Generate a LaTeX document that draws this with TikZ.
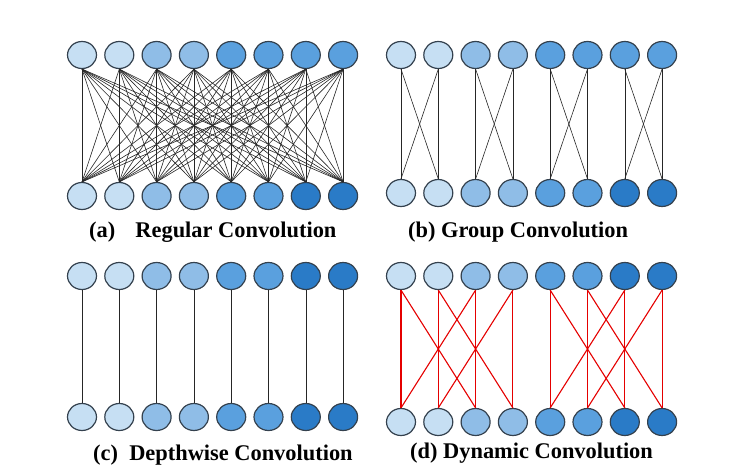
\documentclass[tikz,border=0pt]{standalone}
\usepackage{fontspec}
\setmainfont{Liberation Serif}
\usepackage{tikz}
\usetikzlibrary{positioning, shapes.geometric}

\definecolor{cA}{HTML}{C6DFF3}
\definecolor{cB}{HTML}{8FBDE7}
\definecolor{cC}{HTML}{5AA0DE}
\definecolor{cD}{HTML}{2A7BC7}
\definecolor{rim}{HTML}{34414E}

\begin{document}
\begin{tikzpicture}[
  x=1pt, y=-1pt,
  unit/.style={ellipse, draw=rim, line width=1.2pt, minimum width=29pt, minimum height=27pt, inner sep=0pt},
  wire/.style={draw=black!85, line width=0.6pt},
  dyn/.style={draw=red!90!black, line width=1.1pt},
  caption/.style={font=\bfseries\fontsize{22.4}{24}\selectfont, anchor=west, inner sep=0pt}
]
\useasboundingbox (0,0) rectangle (740,476);
% colour of each unit, left to right
\def\toplist{cA,cA,cB,cB,cC,cC,cC,cC}
\def\botlist{cA,cA,cB,cB,cC,cC,cD,cD}
% (a) and (b)
\foreach \c [count=\i] in \toplist {
  \node[unit, fill=\c] (a-t\i) at ({82+37.3*(\i-1)},55) {};
  \node[unit, fill=\c] (b-t\i) at ({401+37.3*(\i-1)},55) {};
}
\foreach \c [count=\i] in \botlist {
  \node[unit, fill=\c] (a-b\i) at ({82+37.3*(\i-1)},196) {};
  \node[unit, fill=\c] (b-b\i) at ({401+37.3*(\i-1)},193) {};
  \node[unit, fill=\c] (c-t\i) at ({82+37.3*(\i-1)},276) {};
  \node[unit, fill=\c] (c-b\i) at ({82+37.3*(\i-1)},417) {};
  \node[unit, fill=\c] (d-t\i) at ({401+37.3*(\i-1)},276) {};
  \node[unit, fill=\c] (d-b\i) at ({401+37.3*(\i-1)},422) {};
}
% regular: every input to every output
\foreach \i in {1,...,8}
  \foreach \j in {1,...,8}
    \draw[wire] (a-t\i.south) -- (a-b\j.north);
% group: pairs
\foreach \i/\j in {1/2,3/4,5/6,7/8} {
  \draw[wire] (b-t\i.south) -- (b-b\i.north);
  \draw[wire] (b-t\i.south) -- (b-b\j.north);
  \draw[wire] (b-t\j.south) -- (b-b\i.north);
  \draw[wire] (b-t\j.south) -- (b-b\j.north);
}
% depthwise
\foreach \i in {1,...,8}
  \draw[wire] (c-t\i.south) -- (c-b\i.north);
% dynamic
\foreach \i/\j in {1/3,2/4,3/1,4/2,5/7,6/8,7/5,8/6} {
  \draw[dyn] (d-t\i.south) -- (d-b\i.north);
  \draw[dyn] (d-t\i.south) -- (d-b\j.north);
}
\node[caption] (la) at (89,232) {(a)\hspace{0.9em}Regular Convolution};
\node[caption] (lb) at (408,232) {(b) Group Convolution};
\node[caption] (lc) at (93,455) {(c)\hspace{0.5em}Depthwise Convolution};
\node[caption] (ld) at (410,453) {(d) Dynamic Convolution};
\end{tikzpicture}
\end{document}
